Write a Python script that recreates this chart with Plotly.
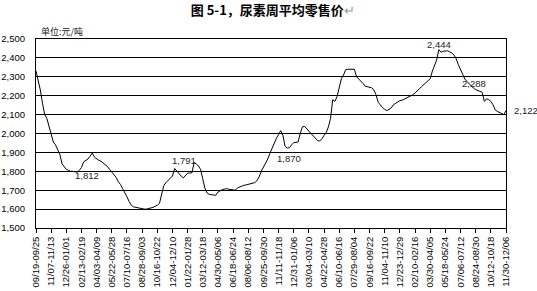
import plotly.graph_objects as go

title_text = "图 5-1，尿素周平均零售价"
unit_text = "单位:元/吨"

# weekly average retail price (yuan/ton), 218 weeks
prices = [
    2330, 2280, 2230, 2160, 2100, 2080, 2040, 2000, 1955, 1940,
    1915, 1890, 1840, 1825, 1810, 1805, 1800, 1800, 1797, 1795,
    1805, 1820, 1850, 1858, 1865, 1880, 1897, 1875, 1865, 1858,
    1853, 1845, 1835, 1825, 1810, 1797, 1782, 1768, 1745, 1730,
    1708, 1690, 1665, 1640, 1620, 1612, 1609, 1605, 1602, 1601,
    1600, 1600, 1602, 1605, 1609, 1615, 1620, 1630, 1680, 1725,
    1740, 1752, 1765, 1775, 1815, 1800, 1785, 1775, 1765, 1775,
    1790, 1791, 1792, 1847, 1840, 1828, 1810, 1760, 1710, 1685,
    1678, 1676, 1674, 1673, 1690, 1698, 1703, 1706, 1708, 1705,
    1703, 1700, 1700, 1712, 1718, 1724, 1726, 1728, 1730, 1733,
    1735, 1740, 1750, 1770, 1800, 1820, 1840, 1865, 1895, 1925,
    1955, 1975, 1995, 2015, 1990, 1932, 1923, 1925, 1940, 1952,
    1953, 1955, 2000, 2035, 2038, 2025, 2010, 2000, 1990, 1975,
    1962, 1960, 1972, 1990, 2005, 2035, 2080, 2179, 2170, 2195,
    2240, 2290, 2310, 2338, 2340, 2341, 2342, 2340, 2300, 2290,
    2280, 2265, 2250, 2246, 2244, 2242, 2230, 2205, 2165, 2150,
    2137, 2128, 2121, 2128, 2135, 2152, 2160, 2168, 2174, 2176,
    2182, 2188, 2192, 2196, 2205, 2215, 2224, 2236, 2248, 2258,
    2268, 2276, 2290, 2330, 2360, 2390, 2444, 2430, 2435, 2436,
    2438, 2432, 2426, 2415, 2395, 2364, 2340, 2315, 2288, 2275,
    2262, 2250, 2240, 2232, 2228, 2223, 2218, 2170, 2183, 2180,
    2170, 2152, 2125, 2117, 2112, 2105, 2100, 2122,
]
weeks = list(range(len(prices)))

tick_labels = [
    "09/19-09/25", "11/07-11/13", "12/26-01/01", "02/13-02/19", "04/03-04/09",
    "05/22-05/28", "07/10-07/16", "08/28-09/03", "10/16-10/22", "12/04-12/10",
    "01/22-01/28", "03/12-03/18", "04/30-05/06", "06/18-06/24", "08/06-08/12",
    "09/25-09/30", "11/11-11/18", "12/31-01/06", "03/04-03/10", "04/22-04/28",
    "06/10-06/16", "07/29-08/04", "09/16-09/22", "11/04-11/10", "12/23-12/29",
    "02/10-02/16", "03/30-04/05", "05/18-05/24", "07/06-07/12", "08/24-08/30",
    "10/12-10/18", "11/30-12/06",
]
tick_step = 7
tick_weeks = [i * tick_step for i in range(len(tick_labels))]

y_ticks = list(range(1500, 2501, 100))
y_tick_text = [f"{v:,}" for v in y_ticks]

# data labels inside the plot: (text, week position, value position)
label_texts = ["1,812", "1,791", "1,870", "2,444", "2,288"]
label_weeks = [23.7, 68.2, 117.0, 186.2, 202.0]
label_values = [1778, 1856, 1867, 2470, 2267]
# last-value label sits right of the plot
last_label = "2,122"
last_label_value = 2121

FONT = "Liberation Sans, Arial, sans-serif"
CJK = "Noto Sans CJK SC, sans-serif"

fig = go.Figure()
fig.add_trace(go.Scatter(
    x=weeks, y=prices, mode="lines",
    line=dict(color="black", width=1),
    hoverinfo="skip", showlegend=False,
))

for t, xw, yv in zip(label_texts, label_weeks, label_values):
    fig.add_annotation(x=xw, y=yv, xref="x", yref="y", text=t, showarrow=False,
                       font=dict(family=FONT, size=9.5, color="#222"))

fig.add_annotation(x=1.012, y=last_label_value, xref="paper", yref="y", xanchor="left",
                   text=last_label, showarrow=False,
                   font=dict(family=FONT, size=9.5, color="#222"))

fig.add_annotation(x=0.007, y=1.04, xref="paper", yref="paper", xanchor="left", yanchor="middle",
                   text=unit_text, showarrow=False,
                   font=dict(family=CJK, size=9, color="#222"))

fig.update_layout(
    width=537, height=291,
    margin=dict(l=36, r=31, t=39, b=63),
    paper_bgcolor="white", plot_bgcolor="white",
    font=dict(family=FONT, size=9.5, color="black"),
    title=dict(
        text="<b>" + title_text + "</b><span style='color:#999'>↵</span>",
        x=0.508, xanchor="center", xref="container",
        y=1 - 10 / 291, yanchor="middle", yref="container",
        font=dict(family=CJK, size=13, color="black"),
    ),
    xaxis=dict(
        range=[0, 217], tickmode="array", tickvals=tick_weeks, ticktext=tick_labels,
        tickangle=-90, ticks="outside", ticklen=4, tickcolor="black",
        showline=True, linecolor="black", linewidth=1, mirror=True,
        showgrid=False, zeroline=False, tickfont=dict(size=9.5), automargin=False,
    ),
    yaxis=dict(
        range=[1500, 2500], tickmode="array", tickvals=y_ticks, ticktext=y_tick_text,
        showline=True, linecolor="black", linewidth=1, mirror=True,
        showgrid=True, gridcolor="black", gridwidth=1, zeroline=False,
        ticks="", ticklabelstandoff=8, tickfont=dict(size=9.5), automargin=False,
    ),
)

fig.write_html("out.html")
